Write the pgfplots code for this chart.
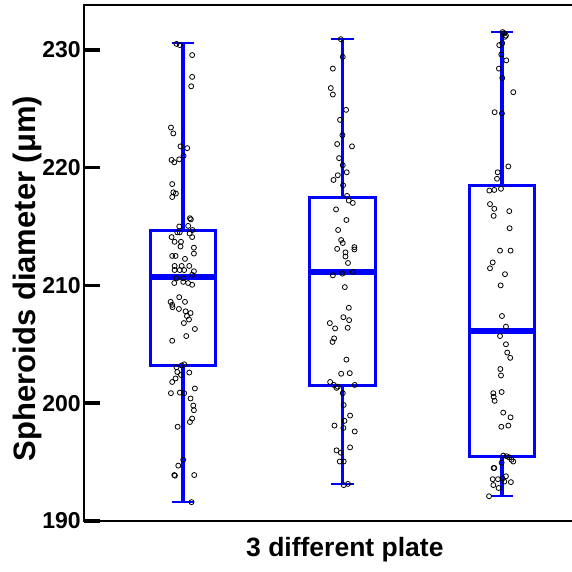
\documentclass[border=0pt]{standalone}
\usepackage{fontspec}
\setmainfont{Liberation Sans}
\usepackage{pgfplots}
\pgfplotsset{compat=1.18}
\definecolor{boxblue}{RGB}{0,0,255}

\begin{document}
\begin{tikzpicture}
\useasboundingbox (-84pt,-50pt) rectangle (488pt,521pt);
\begin{axis}[
    at={(0,0)}, anchor=south west,
    scale only axis, width=495pt, height=516pt,
    xmin=0.38, xmax=3.483, ymin=190, ymax=233.8,
    axis line style={line width=2.6pt},
    xtick=\empty, minor xtick={1,2,3},
    minor tick length=7pt, major tick length=16pt,
    xtick align=outside, ytick align=inside,
    xtick pos=bottom, ytick pos=left,
    minor x tick style={line width=0.8pt, gray},
    ytick={190,200,210,220,230},
    y tick style={line width=3.5pt, black},
    /pgf/number format/assume math mode=true,
    yticklabel style={font=\fontsize{23}{23}\selectfont\bfseries, inner sep=1pt, xshift=-2pt},
    xlabel={3 different plate},
    ylabel={Spheroids diameter (μm)},
    xlabel style={font=\fontsize{26.5}{26.5}\selectfont\bfseries,
        at={(axis description cs:0.527,0)}, anchor=center, yshift=-29pt},
    ylabel style={font=\fontsize{31}{31}\selectfont\bfseries,
        at={(axis description cs:-0.114,0.47)}, anchor=center},
    clip=false,
]
% boxes: quartiles, medians, whiskers, caps
\addplot[boxblue, line width=3pt] coordinates {(0.795,203.2) (1.205,203.2) (1.205,214.65) (0.795,214.65)} -- cycle;
\addplot[boxblue, line width=3pt] coordinates {(1.795,201.5) (2.205,201.5) (2.205,217.45) (1.795,217.45)} -- cycle;
\addplot[boxblue, line width=3pt] coordinates {(2.795,195.45) (3.205,195.45) (3.205,218.5) (2.795,218.5)} -- cycle;
\addplot[boxblue, line width=6pt] coordinates {(0.795,210.75) (1.205,210.75)};
\addplot[boxblue, line width=6pt] coordinates {(1.795,211.15) (2.205,211.15)};
\addplot[boxblue, line width=6pt] coordinates {(2.795,206.1) (3.205,206.1)};
\addplot[boxblue, line width=3.5pt] coordinates {(1,214.65) (1,230.55)};
\addplot[boxblue, line width=3.5pt] coordinates {(1,203.2) (1,191.65)};
\addplot[boxblue, line width=3.5pt] coordinates {(2,217.45) (2,230.9)};
\addplot[boxblue, line width=3.5pt] coordinates {(2,201.5) (2,193.1)};
\addplot[boxblue, line width=3.5pt] coordinates {(3,218.5) (3,231.5)};
\addplot[boxblue, line width=3.5pt] coordinates {(3,195.45) (3,192.1)};
\addplot[boxblue, line width=2pt] coordinates {(0.93,230.55) (1.07,230.55)};
\addplot[boxblue, line width=2pt] coordinates {(0.93,191.65) (1.07,191.65)};
\addplot[boxblue, line width=2pt] coordinates {(1.93,230.9) (2.07,230.9)};
\addplot[boxblue, line width=2pt] coordinates {(1.93,193.1) (2.07,193.1)};
\addplot[boxblue, line width=2pt] coordinates {(2.93,231.5) (3.07,231.5)};
\addplot[boxblue, line width=2pt] coordinates {(2.93,192.1) (3.07,192.1)};

% plate 1
\addplot[only marks, black, mark=o, mark size=2.5pt, mark options={line width=0.8pt}] coordinates {
(0.96,230.5) (0.98,230.4) (1.058,229.55) (1.058,227.7) (1.052,226.9)
(0.925,223.4) (0.94,222.9) (0.985,221.8) (1.027,221.65) (1.004,221.0)
(0.977,220.7) (0.929,220.65) (0.946,220.45) (0.933,218.6) (0.94,217.9)
(0.956,217.8) (0.933,217.5) (1.044,215.7) (1.05,215.6) (0.977,215.0)
(1.033,215.05) (1.06,214.7) (0.965,214.5) (0.98,214.5) (1.042,214.4)
(0.929,214.1) (1.058,214.1) (0.948,213.7) (0.988,213.7) (0.985,213.3)
(1.069,213.2) (1.069,212.7) (0.933,212.5) (0.954,212.5) (1.013,212.25)
(0.948,211.65) (0.992,211.65) (1.04,211.65) (0.948,211.3) (0.98,211.3)
(1.008,211.3) (1.069,211.2) (1.058,210.9) (0.96,210.6) (1.002,210.6)
(0.946,210.2) (1.002,210.3) (1.033,210.2) (1.058,210.05) (0.977,209.0)
(1.013,208.6) (0.923,208.6) (0.933,208.35) (0.935,208.15) (0.975,208.0)
(1.017,207.8) (1.048,207.65) (1.025,207.4) (1.038,207.1) (1.006,206.8)
(1.075,206.3) (1.021,205.7) (0.933,205.3) (1.008,203.3) (0.992,203.2)
(0.96,203.05) (0.965,202.65) (0.988,202.4) (1.04,202.6) (0.954,202.1)
(0.933,201.8) (0.925,200.85) (0.981,200.9) (1.008,200.85) (1.075,201.25)
(1.048,200.4) (1.065,199.8) (1.069,199.4) (1.058,198.7) (1.044,198.4)
(0.967,198.0) (1.002,195.2) (0.971,194.7) (0.95,193.85) (0.946,193.9)
(1.071,193.9) (1.054,191.6)
};

% plate 2
\addplot[only marks, black, mark=o, mark size=2.5pt, mark options={line width=0.8pt}] coordinates {
(1.99,230.9) (2.002,229.4) (1.94,228.4) (1.927,226.75) (1.94,226.2)
(2.023,224.9) (1.985,224.05) (2.0,222.75) (1.967,222.0) (2.06,221.8)
(1.979,220.8) (2.002,220.2) (2.027,219.6) (1.971,219.35) (1.944,218.95)
(2.004,218.5) (2.029,217.6) (2.04,217.2) (2.065,217.0) (1.96,216.45)
(2.025,215.55) (1.973,214.7) (1.992,213.85) (2.002,213.6) (2.075,213.25)
(2.075,213.05) (1.967,213.1) (2.019,212.8) (2.019,212.45) (2.035,211.9)
(1.94,210.85) (2.0,211.0) (2.065,211.15) (2.015,209.85) (2.04,208.1)
(2.006,207.3) (2.042,207.05) (1.921,206.8) (1.954,206.35) (2.033,206.4)
(1.948,205.5) (1.938,205.2) (2.025,203.7) (1.992,202.5) (2.046,202.55)
(1.923,201.8) (1.946,201.55) (1.963,201.3) (1.971,201.4) (2.077,201.55)
(2.002,200.85) (2.008,199.85) (2.048,198.95) (2.013,198.5) (1.95,198.1)
(2.006,197.9) (2.077,197.6) (2.048,196.25) (1.963,196.0) (1.99,195.8)
(1.983,195.05) (2.008,195.05) (2.008,193.05) (2.035,193.15)
};

% plate 3
\addplot[only marks, black, mark=o, mark size=2.5pt, mark options={line width=0.8pt}] coordinates {
(3.004,231.5) (3.015,231.4) (3.025,231.2) (3.019,231.1) (3.002,230.55)
(2.983,230.4) (2.996,229.6) (3.027,229.1) (2.981,228.4) (3.002,227.6)
(3.071,226.4) (2.954,224.7) (3.0,224.6) (3.04,220.1) (2.973,219.6)
(2.969,219.05) (2.921,218.05) (2.952,218.1) (2.994,218.2) (2.925,216.9)
(2.952,216.5) (2.948,215.9) (3.046,216.3) (3.048,214.85) (2.988,212.95)
(3.054,212.95) (2.942,211.95) (2.925,211.45) (3.019,210.95) (2.992,210.0)
(3.0,207.4) (3.025,206.5) (2.988,205.7) (3.025,205.0) (3.033,204.3)
(3.052,203.85) (2.99,202.9) (2.994,202.35) (2.998,200.95) (2.946,200.85)
(2.948,200.55) (2.954,200.2) (3.008,199.2) (3.054,198.8) (2.996,198.0)
(3.04,198.1) (3.008,195.55) (3.029,195.5) (3.046,195.4) (3.06,195.2)
(3.071,195.05) (2.998,194.95) (2.948,194.5) (2.952,194.5) (3.025,193.8)
(2.942,193.55) (2.975,193.55) (3.004,193.6) (3.015,193.35) (3.056,193.3)
(2.946,193.05) (2.979,192.8) (2.919,192.1)
};
\end{axis}
\end{tikzpicture}
\end{document}
